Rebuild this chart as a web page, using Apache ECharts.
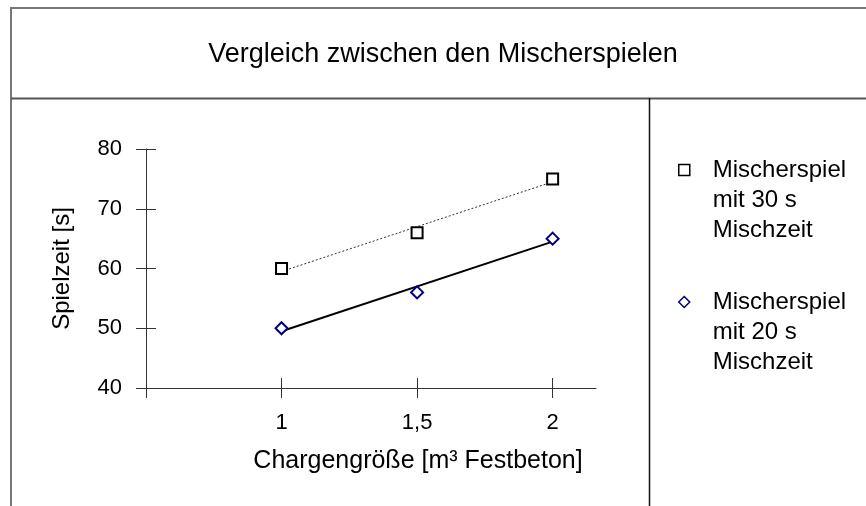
<!DOCTYPE html>
<html>
<head>
<meta charset="utf-8">
<title>Vergleich zwischen den Mischerspielen</title>
<script src="https://cdn.jsdelivr.net/npm/echarts@6/dist/echarts.min.js"></script>
<style>
  html, body { margin: 0; padding: 0; background: #fff; }
  #chart { width: 866px; height: 506px; }
</style>
</head>
<body>
<div id="chart"></div>
<script>
// Batch size in m³ of fresh concrete
const chargeSizes = [1, 1.5, 2];
// Mixer cycle time [s] for 30 s and 20 s mixing time
const cycle30 = [60, 66, 75];
const cycle20 = [50, 56, 65];

const seriesNames = [
  ['Mischerspiel', 'mit 30 s', 'Mischzeit'],
  ['Mischerspiel', 'mit 20 s', 'Mischzeit']
];

// Axis tick and label positions
const xTickValues = [0.5, 1, 1.5, 2];
const xLabelValues = [1, 1.5, 2];
const yMin = 40, yMax = 80, yStep = 10;

const FONT = 'Liberation Sans, Arial, sans-serif';

// Least-squares trend line, evaluated at the first and last batch size
function trend(xs, ys) {
  const n = xs.length;
  const mx = xs.reduce((a, b) => a + b, 0) / n;
  const my = ys.reduce((a, b) => a + b, 0) / n;
  let sxy = 0, sxx = 0;
  for (let i = 0; i < n; i++) {
    sxy += (xs[i] - mx) * (ys[i] - my);
    sxx += (xs[i] - mx) * (xs[i] - mx);
  }
  const k = sxy / sxx;
  const x0 = xs[0], x1 = xs[n - 1];
  return [[x0, my + k * (x0 - mx)], [x1, my + k * (x1 - mx)]];
}

const pairs = ys => chargeSizes.map((x, i) => [x, ys[i]]);
const name30 = seriesNames[0].join(' ');
const name20 = seriesNames[1].join(' ');

const chart = echarts.init(document.getElementById('chart'), null, { renderer: 'canvas' });

const axisLineStyle = { color: '#333', width: 1 };

// Legend entries: marker next to the first of three text lines
function legendFor(lines, top, icon, itemStyle) {
  return {
    orient: 'vertical',
    left: 678,
    top: top,
    padding: 0,
    itemWidth: 11,
    itemHeight: 11,
    selectedMode: false,
    data: [{ name: lines.join(' '), icon: icon }],
    itemStyle: itemStyle,
    formatter: () => lines.map(l => '{t|' + l + '}').join('\n'),
    textStyle: {
      padding: [60, 0, 0, 18],
      rich: {
        t: { fontFamily: FONT, fontSize: 24, lineHeight: 30, color: '#000' }
      }
    }
  };
}

chart.setOption({
  animation: false,
  backgroundColor: '#fff',
  title: {
    text: 'Vergleich zwischen den Mischerspielen',
    left: 443,
    top: 41,
    textAlign: 'center',
    padding: 0,
    textStyle: { fontFamily: FONT, fontSize: 27, fontWeight: 'normal', color: '#000' }
  },
  legend: [
    legendFor(seriesNames[0], 158, 'rect', { color: '#fff', borderColor: '#000', borderWidth: 1.5 }),
    legendFor(seriesNames[1], 290, 'diamond', { color: '#fff', borderColor: '#000080', borderWidth: 1.5 })
  ],
  graphic: [
    // outer frame, title divider and legend divider
    { type: 'line', shape: { x1: 11, y1: 8, x2: 866, y2: 8 }, style: { stroke: '#777', lineWidth: 2 }, silent: true },
    { type: 'line', shape: { x1: 11, y1: 7, x2: 11, y2: 506 }, style: { stroke: '#777', lineWidth: 2 }, silent: true },
    { type: 'line', shape: { x1: 11, y1: 98.5, x2: 866, y2: 98.5 }, style: { stroke: '#555', lineWidth: 2 }, silent: true },
    { type: 'line', shape: { x1: 649.5, y1: 98, x2: 649.5, y2: 506 }, style: { stroke: '#111', lineWidth: 1.5 }, silent: true }
  ],
  grid: { left: 146, right: 270, top: 149, bottom: 118, containLabel: false },
  xAxis: [
    {
      type: 'value',
      min: 0.5, max: 2.16, interval: 0.5,
      position: 'bottom',
      name: 'Chargengröße [m³ Festbeton]',
      nameLocation: 'middle',
      nameGap: 61,
      nameTextStyle: { fontFamily: FONT, fontSize: 25, color: '#000', padding: [0, 0, 0, 94] },
      axisLine: { show: true, onZero: false, lineStyle: axisLineStyle },
      axisTick: { show: true, length: 10, customValues: xTickValues, lineStyle: axisLineStyle },
      axisLabel: {
        customValues: xLabelValues,
        margin: 24,
        fontFamily: FONT, fontSize: 22, color: '#000',
        formatter: v => String(v).replace('.', ',')
      },
      splitLine: { show: false }
    },
    {
      type: 'value',
      min: 0.5, max: 2.16, interval: 0.5,
      position: 'bottom',
      axisLine: { show: false, onZero: false },
      axisTick: { show: true, inside: true, length: 10, customValues: xTickValues, lineStyle: axisLineStyle },
      axisLabel: { show: false },
      splitLine: { show: false }
    }
  ],
  yAxis: [
    {
      type: 'value',
      min: yMin, max: yMax, interval: yStep,
      position: 'left',
      name: 'Spielzeit [s]',
      nameLocation: 'middle',
      nameGap: 72,
      nameTextStyle: { fontFamily: FONT, fontSize: 24, color: '#000' },
      axisLine: { show: true, onZero: false, lineStyle: axisLineStyle },
      axisTick: { show: true, length: 10, lineStyle: axisLineStyle },
      axisLabel: { margin: 24, fontFamily: FONT, fontSize: 22, color: '#000' },
      splitLine: { show: false }
    },
    {
      type: 'value',
      min: yMin, max: yMax, interval: yStep,
      position: 'left',
      axisLine: { show: false, onZero: false },
      axisTick: { show: true, inside: true, length: 10, lineStyle: axisLineStyle },
      axisLabel: { show: false },
      splitLine: { show: false }
    }
  ],
  series: [
    {
      name: 'Trend 30 s',
      type: 'line',
      data: trend(chargeSizes, cycle30),
      symbol: 'none',
      silent: true,
      z: 2,
      lineStyle: { color: '#333', width: 1, type: [2, 2] }
    },
    {
      name: 'Trend 20 s',
      type: 'line',
      data: trend(chargeSizes, cycle20),
      symbol: 'none',
      silent: true,
      z: 2,
      lineStyle: { color: '#000', width: 2 }
    },
    {
      name: name30,
      type: 'scatter',
      data: pairs(cycle30),
      symbol: 'rect',
      symbolSize: 11,
      z: 3,
      itemStyle: { color: '#fff', borderColor: '#000', borderWidth: 2, opacity: 1 },
      emphasis: { disabled: true }
    },
    {
      name: name20,
      type: 'scatter',
      data: pairs(cycle20),
      symbol: 'diamond',
      symbolSize: 12,
      z: 3,
      itemStyle: { color: '#fff', borderColor: '#000080', borderWidth: 2, opacity: 1 },
      emphasis: { disabled: true }
    }
  ]
});
</script>
</body>
</html>
